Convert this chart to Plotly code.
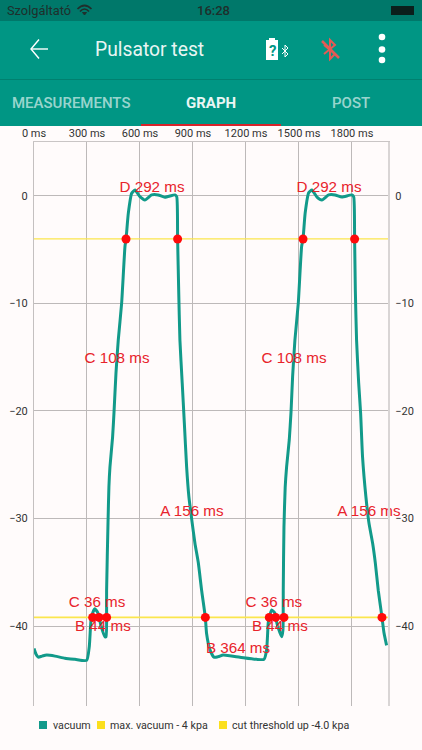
import plotly.graph_objects as go

# ---- data ----
time_ms = [0, 11, 24, 45, 72, 119, 175, 232, 298, 313, 323, 334, 345, 362, 368, 383, 402, 408, 411, 411, 419, 424, 430, 445, 453, 464, 477, 496, 515, 521, 534, 553, 572, 600, 628, 666, 703, 741, 798, 808, 813, 819, 826, 839, 851, 864, 877, 893, 911, 930, 949, 970, 977, 996, 1019, 1043, 1071, 1166, 1260, 1302, 1317, 1326, 1332, 1345, 1364, 1368, 1383, 1402, 1409, 1411, 1411, 1415, 1422, 1430, 1445, 1455, 1464, 1477, 1496, 1515, 1523, 1535, 1555, 1573, 1602, 1630, 1668, 1704, 1743, 1800, 1810, 1815, 1819, 1826, 1838, 1849, 1860, 1879, 1896, 1917, 1932, 1949, 1970, 1981, 1996]
vacuum_kpa = [-42.1, -42.6, -42.9, -42.8, -42.7, -42.8, -43.0, -43.1, -43.2, -41.9, -39.4, -38.7, -38.4, -38.8, -39.2, -40.2, -41.0, -41.0, -38.8, -36.7, -30.4, -27.1, -25.2, -22.4, -20.1, -16.5, -13.4, -10.0, -4.7, -4.0, -1.6, 0.25, 0.55, -0.07, -0.37, 0.1, 0.1, -0.12, 0.1, -0.07, -4.0, -8.7, -13.4, -17.4, -21.1, -25.2, -28.0, -30.1, -32.3, -34.1, -36.7, -39.2, -40.7, -42.2, -42.9, -42.85, -42.7, -42.9, -43.1, -43.1, -42.2, -39.7, -39.2, -38.5, -38.8, -39.2, -40.2, -41.0, -40.4, -37.6, -36.7, -30.8, -27.1, -25.2, -22.7, -20.1, -16.8, -13.4, -10.0, -4.7, -4.0, -1.6, 0.3, 0.55, -0.1, -0.37, 0.1, 0.1, -0.1, 0.1, -0.1, -4.0, -8.7, -13.4, -17.4, -20.2, -24.3, -28.0, -30.4, -32.3, -34.1, -36.7, -39.2, -40.6, -41.8]
line_x = [0, 2004]
max_vacuum_minus_4 = [-39.2, -39.2]
cut_threshold = [-4.0, -4.0]
point_x = [521, 813, 1523, 1815, 332, 368, 411, 970, 1332, 1368, 1415, 1970]
point_y = [-4, -4, -4, -4, -39.2, -39.2, -39.2, -39.2, -39.2, -39.2, -39.2, -39.2]
label_text = ["D 292 ms", "D 292 ms", "C 108 ms", "C 108 ms", "A 156 ms", "A 156 ms", "C 36 ms", "C 36 ms", "B 44 ms", "B 44 ms", "B 364 ms"]
label_x = [668, 1670, 470, 1472, 894, 1896, 357, 1358, 390, 1392, 1155]
label_y = [0.76, 0.76, -15.15, -15.15, -29.38, -29.38, -37.88, -37.88, -40.08, -40.08, -42.18]
x_ticks = [0, 300, 600, 900, 1200, 1500, 1800]
x_tick_labels = ["0 ms", "300 ms", "600 ms", "900 ms", "1200 ms", "1500 ms", "1800 ms"]
y_ticks = [0, -10, -20, -30, -40]
legend_names = ["vacuum", "max. vacuum - 4 kpa", "cut threshold up -4.0 kpa"]

W, H = 422, 750
TEAL = "#129A8A"
YELLOW = "#FBE64D"
RED = "#E8232B"
BG = "#FFFBFB"
FONT = "Roboto"
DARK = "#1F2F2C"

def px(x): return x / W
def py(y): return 1 - y / H

def rect(x0, y0, x1, y1, fill, layer="below"):
    return dict(type="rect", xref="paper", yref="paper", x0=px(x0), x1=px(x1), y0=py(y1), y1=py(y0),
                fillcolor=fill, line_width=0, layer=layer)

def path(points, color, width=1.5, fill=None):
    d = "M" + " L".join(f"{px(a):.5f} {py(b):.5f}" for a, b in points)
    if fill:
        d += " Z"
    return dict(type="path", xref="paper", yref="paper", path=d, layer="above",
                line=dict(color=color, width=width), fillcolor=fill)

def dot(cx, cy, r, fill):
    return dict(type="circle", xref="paper", yref="paper", x0=px(cx - r), x1=px(cx + r),
                y0=py(cy + r), y1=py(cy - r), fillcolor=fill, line_width=0, layer="above")

def arc(x0, x1, y_end, y_ctrl, width):
    d = (f"M{px(x0):.5f} {py(y_end):.5f} "
         f"Q{px((x0 + x1) / 2):.5f} {py(y_ctrl):.5f} {px(x1):.5f} {py(y_end):.5f}")
    return dict(type="path", xref="paper", yref="paper", path=d, layer="above",
                line=dict(color=DARK, width=width))

def text(x, y, s, size, color, anchor="left", weight="normal"):
    return dict(xref="paper", yref="paper", x=px(x), y=py(y), text=s, showarrow=False, xanchor=anchor,
                yanchor="middle", font=dict(family=FONT, size=size, color=color, weight=weight),
                borderpad=0, borderwidth=0)

fig = go.Figure()
fig.add_trace(go.Scatter(x=line_x, y=max_vacuum_minus_4, mode="lines", name=legend_names[1],
                         line=dict(color=YELLOW, width=1.6), showlegend=False))
fig.add_trace(go.Scatter(x=line_x, y=cut_threshold, mode="lines", name=legend_names[2],
                         line=dict(color=YELLOW, width=1.3), showlegend=False))
fig.add_trace(go.Scatter(x=time_ms, y=vacuum_kpa, mode="lines", name=legend_names[0],
                         line=dict(color=TEAL, width=3, shape="spline", smoothing=0.5), showlegend=False))
fig.add_trace(go.Scatter(x=point_x, y=point_y, mode="markers", name="points", yaxis="y2",
                         marker=dict(color="#FF0A0A", size=9), showlegend=False))
fig.add_trace(go.Scatter(x=label_x, y=label_y, mode="text", text=label_text, name="labels", yaxis="y2",
                         textfont=dict(family="Liberation Sans", size=15.2, color=RED),
                         textposition="middle center", showlegend=False, cliponaxis=False))

shapes = [
    rect(0, 0, W, 21, "#00786A"),
    rect(0, 21, W, 79, "#009684"),
    rect(0, 79, W, 80, "#00806F"),
    rect(0, 80, W, 126, "#009684"),
    rect(141, 124, 281, 126, "#D8232A", "above"),
    # status bar wifi and battery
    arc(77.5, 91.5, 9, 2, 1.7), arc(80, 89, 11.5, 6.5, 1.7),
    path([(82.5, 12.5), (86.5, 12.5), (84.5, 15)], DARK, 1, DARK),
    rect(391, 6, 414, 15, "#0B1F1C", "above"),
    # back arrow
    path([(31, 49), (48, 49)], "white", 1.4),
    path([(39, 39.5), (31, 49), (39, 58.5)], "white", 1.4),
    # battery with question mark
    rect(269, 38, 275, 41, "white", "above"),
    rect(266, 40, 278, 60, "white", "above"),
    path([(282, 48), (288, 54), (285, 57), (285, 45), (288, 48), (282, 54)], "white", 1),
    # crossed bluetooth
    path([(324, 45), (335, 54), (330, 59), (330, 40), (335, 45), (324, 54)], "#E45B55", 2),
    path([(322, 41), (339, 58)], "#E45B55", 2.5),
    # overflow menu
    dot(382, 37, 3.3, "white"), dot(382, 49.5, 3.3, "white"), dot(382, 60, 3.3, "white"),
    # legend swatches
    rect(39, 721, 47, 729, TEAL, "above"),
    rect(97, 721, 105, 729, "#FBDF1E", "above"),
    rect(219, 721, 227, 729, "#FBDF1E", "above"),
]

annotations = [
    text(7, 10.5, "Szolgáltató", 12.8, DARK),
    text(213, 10.5, "16:28", 13, DARK, "center", 500),
    text(94.5, 49.5, "Pulsator test", 19.3, "#E9F5F3"),
    text(272, 50.5, "?", 15, "#009684", "center", 700),
    text(70.5, 102.5, "MEASUREMENTS", 15, "rgba(255,255,255,0.62)", "center", 500),
    text(211, 102.5, "GRAPH", 15, "#EAF6F4", "center", 700),
    text(351, 102.5, "POST", 15, "rgba(255,255,255,0.62)", "center", 500),
    text(52.7, 725.5, legend_names[0], 10.7, "#333333"),
    text(110, 725.5, legend_names[1], 10.7, "#333333"),
    text(232, 725.5, legend_names[2], 10.7, "#333333"),
]

GRID = "#BDB9B9"
y_range = [-47.44, 5.02]
fig.update_layout(
    width=W, height=H, margin=dict(l=0, r=0, t=0, b=0, pad=0),
    paper_bgcolor=BG, plot_bgcolor=BG, showlegend=False,
    font=dict(family=FONT, size=11, color="#333333"),
    shapes=shapes, annotations=annotations,
    xaxis=dict(domain=[px(34), px(388)], range=[0, 2004], side="top", tickmode="array",
               tickvals=x_ticks, ticktext=x_tick_labels, showgrid=True, gridcolor=GRID, gridwidth=1,
               zeroline=False, showline=True, linecolor="#C9C5C5", linewidth=1, mirror=False,
               ticks="", automargin=False, tickfont=dict(size=11, color="#333333")),
    yaxis=dict(domain=[py(706), py(142)], range=y_range, tickmode="array", tickvals=y_ticks,
               showgrid=True, gridcolor=GRID, gridwidth=1, zeroline=False, showline=True,
               linecolor="#C4C0C0", linewidth=1, ticks="", ticklabelstandoff=3, automargin=False,
               tickfont=dict(size=11, color="#333333")),
    yaxis2=dict(overlaying="y", side="right", range=y_range, tickmode="array", tickvals=y_ticks,
                showgrid=False, zeroline=False, showline=True, linecolor="#D9D5D5", linewidth=2,
                ticks="", ticklabelstandoff=3, automargin=False, tickfont=dict(size=11, color="#333333")),
)

fig.write_html("out.html", config=dict(displayModeBar=False, responsive=False),
               post_script="document.body.style.margin='0';document.body.style.background='#FFFBFB';")
